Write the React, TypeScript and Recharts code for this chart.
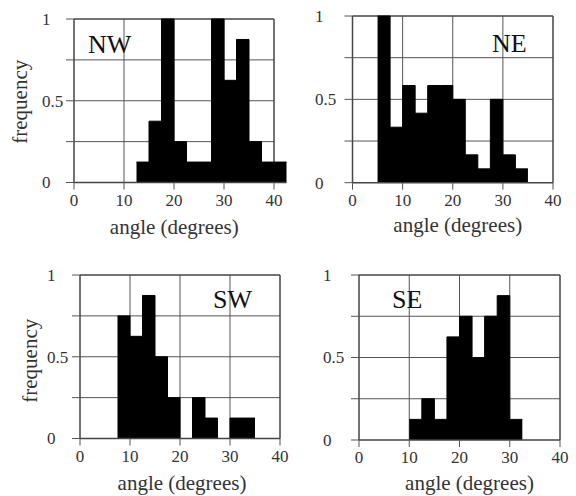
import React from "react";
import { ComposedChart, Area, XAxis, YAxis, ReferenceLine } from "recharts";

// ---- data ----
const xTicks = [0, 10, 20, 30, 40];
const yTicks = [0, 0.25, 0.5, 0.75, 1];
const yLabelTicks = [0, 0.5, 1];
const gridX = [10, 20, 30];
const gridY = [0.25, 0.5, 0.75];

const nwEdges = [12.5, 15, 17.5, 20, 22.5, 25, 27.5, 30, 32.5, 35, 37.5, 40, 42.5];
const nwFreq = [0.125, 0.375, 1, 0.25, 0.125, 0.125, 1, 0.625, 0.875, 0.25, 0.125, 0.125];

const neEdges = [5, 7.5, 10, 12.5, 15, 17.5, 20, 22.5, 25, 27.5, 30, 32.5, 35];
const neFreq = [1, 0.333, 0.583, 0.417, 0.583, 0.583, 0.5, 0.167, 0.083, 0.5, 0.167, 0.083];

const swEdges = [7.5, 10, 12.5, 15, 17.5, 20, 22.5, 25, 27.5, 30, 32.5, 35];
const swFreq = [0.75, 0.625, 0.875, 0.5, 0.25, 0, 0.25, 0.125, 0, 0.125, 0.125];

const seEdges = [10, 12.5, 15, 17.5, 20, 22.5, 25, 27.5, 30, 32.5];
const seFreq = [0.125, 0.25, 0.125, 0.625, 0.75, 0.5, 0.75, 0.875, 0.125];

const xTitle = "angle (degrees)";
const yTitle = "frequency";

const build = (edges: number[], freq: number[]) =>
  edges.map((x, i) => ({ x, f: i < freq.length ? freq[i] : freq[freq.length - 1] }));

const FONT = '"Liberation Serif", "Times New Roman", serif';
const FRAME = "#444";
const GRID = "#555";
const TXT = "#333";

type Cfg = {
  name: string;
  edges: number[];
  freq: number[];
  left: number; top: number; w: number; h: number;
  FL: number; FT: number; FB: number; plotRight: number; xMax: number;
  axisH: number; titleDx: number; labelShift: number;
  showY: boolean; freqDx?: number; freqDy?: number;
  nameX: number; nameY: number;
};

const panels: Cfg[] = [
  { name: "NW", edges: nwEdges, freq: nwFreq, left: 0, top: 0, w: 290, h: 245,
    FL: 74, FT: 19, FB: 182.5, plotRight: 286.5, xMax: 42.5, axisH: 51, titleDx: -6,
    labelShift: 24, showY: true, freqDx: -17, freqDy: 1, nameX: 88, nameY: 53 },
  { name: "NE", edges: neEdges, freq: neFreq, left: 290, top: 0, w: 286, h: 245,
    FL: 352.5, FT: 16, FB: 182.7, plotRight: 553, xMax: 40, axisH: 49, titleDx: 5,
    labelShift: 29.5, showY: false, nameX: 492, nameY: 52 },
  { name: "SW", edges: swEdges, freq: swFreq, left: 0, top: 250, w: 290, h: 246,
    FL: 80, FT: 275, FB: 438.5, plotRight: 280, xMax: 40, axisH: 51.5, titleDx: 2,
    labelShift: 25, showY: true, freqDx: -10, freqDy: 4, nameX: 213, nameY: 308 },
  { name: "SE", edges: seEdges, freq: seFreq, left: 290, top: 250, w: 286, h: 246,
    FL: 359, FT: 275, FB: 440, plotRight: 560, xMax: 40, axisH: 50, titleDx: 10,
    labelShift: 28, showY: false, nameX: 392, nameY: 308 },
];

function Panel({ c }: { c: Cfg }) {
  const data = build(c.edges, c.freq);
  const margin = {
    top: c.FT - c.top,
    right: c.left + c.w - c.plotRight,
    bottom: c.top + c.h - c.FB - c.axisH,
    left: 0,
  };
  const yTick = (p: any) => {
    const v = p.payload.value;
    if (!yLabelTicks.includes(v)) return <g />;
    return (
      <text x={p.x - c.labelShift} y={p.y} dy="0.35em" textAnchor="start"
        fontSize={17} fontFamily={FONT} fill={TXT}>
        {String(v)}
      </text>
    );
  };
  return (
    <div style={{ position: "absolute", left: c.left, top: c.top, width: c.w, height: c.h }}>
      <ComposedChart width={c.w} height={c.h} data={data} margin={margin}>
        {gridX.map((g) => (
          <ReferenceLine key={"gx" + g} segment={[{ x: g, y: 0 }, { x: g, y: 1 }]}
            stroke={GRID} strokeWidth={1} zIndex={-100} />
        ))}
        {gridY.map((g) => (
          <ReferenceLine key={"gy" + g} segment={[{ x: 0, y: g }, { x: 40, y: g }]}
            stroke={GRID} strokeWidth={1} zIndex={-100} />
        ))}
        <ReferenceLine segment={[{ x: 0, y: 1 }, { x: 40, y: 1 }]} stroke={FRAME} strokeWidth={1.5} zIndex={-100} />
        <ReferenceLine segment={[{ x: 40, y: 0 }, { x: 40, y: 1 }]} stroke={FRAME} strokeWidth={1.5} zIndex={-100} />
        <XAxis
          type="number"
          dataKey="x"
          domain={[0, c.xMax]}
          ticks={xTicks}
          interval={0}
          height={c.axisH}
          tickSize={7}
          tickMargin={4}
          axisLine={{ stroke: FRAME, strokeWidth: 1.5 }}
          tickLine={{ stroke: GRID, strokeWidth: 1 }}
          tick={{ fontSize: 17, fill: TXT, fontFamily: FONT }}
          label={{ value: xTitle, position: "insideBottom", offset: 0, dx: c.titleDx,
            fontSize: 21, fill: TXT, fontFamily: FONT }}
        />
        <YAxis
          type="number"
          domain={[0, 1]}
          ticks={yTicks}
          interval={0}
          width={c.FL - c.left}
          tickSize={8}
          tickMargin={0}
          axisLine={{ stroke: FRAME, strokeWidth: 1.5 }}
          tickLine={{ stroke: GRID, strokeWidth: 1 }}
          tick={yTick}
          label={c.showY ? { value: yTitle, angle: -90, position: "center", dx: c.freqDx, dy: c.freqDy,
            fontSize: 21, fill: TXT, fontFamily: FONT } : undefined}
        />
        <Area
          type="stepAfter"
          dataKey="f"
          stroke="#000"
          strokeWidth={1}
          fill="#000"
          fillOpacity={1}
          dot={false}
          activeDot={false}
          isAnimationActive={false}
        />
      </ComposedChart>
    </div>
  );
}

export default function App() {
  return (
    <div style={{ position: "absolute", left: 0, top: 0, width: 576, height: 496, background: "#fff", overflow: "hidden" }}>
      {panels.map((c) => (
        <Panel key={c.name} c={c} />
      ))}
      <svg width={576} height={496} style={{ position: "absolute", left: 0, top: 0, pointerEvents: "none" }}>
        {panels.map((c) => (
          <text key={c.name} x={c.nameX} y={c.nameY} fontSize={26} fontFamily={FONT} fill="#111">
            {c.name}
          </text>
        ))}
      </svg>
    </div>
  );
}
